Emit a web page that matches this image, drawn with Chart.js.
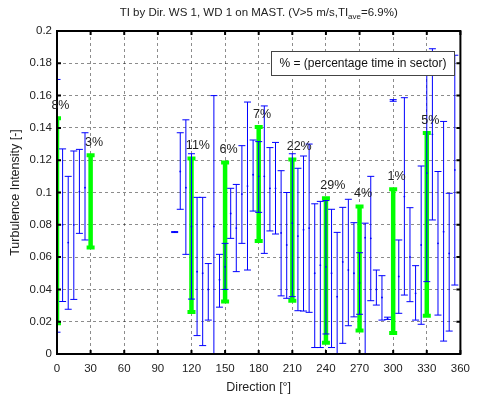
<!DOCTYPE html>
<html>
<head>
<meta charset="utf-8">
<script src="https://cdn.jsdelivr.net/npm/chart.js@4.4.1/dist/chart.umd.min.js"></script>
<style>
  html, body { margin: 0; padding: 0; background: #fff; }
</style>
</head>
<body>
<canvas id="chart" width="478" height="395"></canvas>
<script>
// 5 degree bins (blue error bars)
const binDir = [0, 5, 10, 15, 20, 25, 105, 110, 115, 120, 125, 130, 135, 140, 145, 150, 155, 160, 165, 170,
  175, 180, 185, 190, 195, 200, 205, 210, 215, 220, 225, 230, 235, 240, 245, 250, 255, 260, 265, 270,
  275, 280, 285, 290, 295, 300, 305, 310, 315, 320, 325, 330, 335, 340, 345, 350, 355];
const binHigh = [0.170, 0.127, 0.110, 0.1257, 0.1267, 0.137, 0.0758, 0.137, 0.145, 0.124, 0.097, 0.097, 0.056, 0.160, 0.0617, 0.0685, 0.1026, 0.105, 0.129, 0.156,
  0.1325, 0.1315, 0.1536, 0.1278, 0.131, 0.1135, 0.100, 0.124, 0.115, 0.1226, 0.130, 0.093, 0.0945, 0.095, 0.0896, 0.0753, 0.0908, 0.0958, 0.0813, 0.0627,
  0.081, 0.110, 0.052, 0.0485, 0.0228, 0.1575, 0.0706, 0.1587, 0.0906, 0.0547, 0.1164, 0.180, 0.189, 0.113, 0.144, 0.0995, 0.185];
const binMean = [0.090, 0.080, 0.069, 0.080, 0.1005, 0.103, 0.0755, 0.113, 0.103, 0.079, 0.051, 0.050, 0.040, 0.079, 0.046, 0.054, 0.087, 0.078, 0.099, 0.104,
  0.111, 0.110, 0.110, 0.1026, 0.1026, 0.075, 0.0675, 0.081, 0.073, 0.077, 0.078, 0.050, 0.055, 0.054, 0.050, 0.0355, 0.057, 0.052, 0.050, 0.044,
  0.072, 0.0716, 0.040, 0.035, 0.022, 0.157, 0.048, 0.0975, 0.060, 0.0376, 0.0675, 0.112, 0.136, 0.0685, 0.0757, 0.0623, 0.114];
const binLow = [0.0135, 0.0325, 0.0277, 0.0338, 0.0747, 0.0706, 0.0752, 0.0896, 0.0617, 0.034, 0.0114, 0.0052, 0.021, -0.01, 0.029, 0.040, 0.0716, 0.051, 0.0685, 0.052,
  0.0885, 0.0877, 0.0623, 0.0762, 0.0743, 0.036, 0.0345, 0.0355, 0.0268, 0.0266, 0.0258, 0.004, 0.004, 0.0124, 0.004, -0.01, 0.0066, 0.0175, 0.023, 0.0246,
  -0.01, 0.033, 0.0303, 0.021, 0.0214, 0.1565, 0.0252, 0.0365, 0.0324, 0.021, 0.0184, 0.0448, 0.083, 0.0241, 0.008, 0.0142, 0.0427];

// 30 degree sectors (green bars)
const sectorDir = [0, 30, 120, 150, 180, 210, 240, 270, 300, 330];
const sectorHigh = [0.146, 0.123, 0.121, 0.1186, 0.1405, 0.1205, 0.0965, 0.0913, 0.102, 0.1368];
const sectorLow = [0.019, 0.066, 0.026, 0.0325, 0.070, 0.033, 0.007, 0.0145, 0.013, 0.0237];
const sectorPct = ['8%', '3%', '11%', '6%', '7%', '22%', '29%', '4%', '1%', '5%'];

const xTicks = [0, 30, 60, 90, 120, 150, 180, 210, 240, 270, 300, 330, 360];
const yTicks = [0, 0.02, 0.04, 0.06, 0.08, 0.1, 0.12, 0.14, 0.16, 0.18, 0.2];

const FONT = '"Liberation Sans", Arial, Helvetica, sans-serif';

// vertical segments separated by null gaps
function segments(dirs, lows, highs) {
  const pts = [];
  dirs.forEach((d, i) => {
    pts.push({x: d, y: lows[i]}, {x: d, y: highs[i]}, {x: d, y: null});
  });
  return pts;
}

const decorations = {
  id: 'decorations',
  afterDatasetsDraw(chart) {
    const {ctx, chartArea: a, scales: {x, y}} = chart;
    ctx.save();
    ctx.strokeStyle = '#000';
    ctx.lineWidth = 2;
    ctx.beginPath();
    xTicks.forEach(v => {
      const px = x.getPixelForValue(v);
      ctx.moveTo(px, a.top); ctx.lineTo(px, a.top + 4);
      ctx.moveTo(px, a.bottom); ctx.lineTo(px, a.bottom - 4);
    });
    yTicks.forEach(v => {
      const py = y.getPixelForValue(v);
      ctx.moveTo(a.left, py); ctx.lineTo(a.left + 4, py);
      ctx.moveTo(a.right, py); ctx.lineTo(a.right - 4, py);
    });
    ctx.stroke();
    ctx.strokeRect(a.left, a.top, a.right - a.left, a.bottom - a.top);

    // sector percentages
    ctx.fillStyle = '#222';
    ctx.font = '12.5px ' + FONT;
    ctx.textAlign = 'left';
    ctx.textBaseline = 'middle';
    sectorDir.forEach((d, i) => {
      ctx.fillText(sectorPct[i], x.getPixelForValue(d - 5), y.getPixelForValue(sectorHigh[i] + 0.008));
    });

    // note box
    ctx.fillStyle = '#fff';
    ctx.fillRect(271, 51, 183, 24);
    ctx.strokeStyle = '#444';
    ctx.lineWidth = 1;
    ctx.strokeRect(271.5, 51.5, 183, 24);
    ctx.fillStyle = '#111';
    ctx.font = '12px ' + FONT;
    ctx.textAlign = 'center';
    ctx.fillText('% = (percentage time in sector)', 363, 64);

    // title with subscript
    const main = 'TI by Dir. WS 1, WD 1 on MAST. (V>5 m/s,TI';
    const sub = 'ave';
    const tail = '=6.9%)';
    const f1 = '11.5px ' + FONT, f2 = '8px ' + FONT;
    ctx.font = f1; const w1 = ctx.measureText(main).width, w3 = ctx.measureText(tail).width;
    ctx.font = f2; const w2 = ctx.measureText(sub).width;
    let tx = (a.left + a.right) / 2 - (w1 + w2 + w3) / 2;
    ctx.textAlign = 'left';
    ctx.textBaseline = 'alphabetic';
    ctx.fillStyle = '#222';
    ctx.font = f1; ctx.fillText(main, tx, 16); tx += w1;
    ctx.font = f2; ctx.fillText(sub, tx, 19); tx += w2;
    ctx.font = f1; ctx.fillText(tail, tx, 16);
    ctx.restore();
  }
};

new Chart(document.getElementById('chart'), {
  type: 'line',
  data: {
    datasets: [
      {
        label: 'mean',
        data: binDir.map((d, i) => ({x: d, y: binMean[i]})),
        showLine: false,
        pointRadius: 0.9,
        pointBackgroundColor: '#0000ff',
        pointBorderWidth: 0
      },
      {
        label: 'bins',
        data: segments(binDir, binLow, binHigh),
        borderColor: '#0000ff',
        borderWidth: 1,
        spanGaps: false,
        pointStyle: 'line',
        pointRadius: 3.5,
        pointBorderColor: '#0000ff',
        pointBorderWidth: 1
      },
      {
        label: 'sectors',
        data: segments(sectorDir, sectorLow, sectorHigh),
        borderColor: '#00ff00',
        borderWidth: 4.5,
        borderCapStyle: 'butt',
        spanGaps: false,
        pointStyle: 'line',
        pointRadius: 4,
        pointBorderColor: '#00ff00',
        pointBorderWidth: 4
      }
    ]
  },
  options: {
    responsive: false,
    animation: false,
    layout: {padding: {left: 0, top: 31, right: 12, bottom: 0}},
    plugins: {legend: {display: false}, tooltip: {enabled: false}},
    scales: {
      x: {
        type: 'linear',
        min: 0,
        max: 360,
        afterBuildTicks: s => { s.ticks = xTicks.map(v => ({value: v})); },
        afterFit: s => { s.height = 41; },
        grid: {color: 'rgba(0,0,0,0.45)', drawTicks: false},
        border: {display: false, dash: [3, 3]},
        ticks: {color: '#222', padding: 8, maxRotation: 0, font: {family: FONT, size: 11.5}},
        title: {display: true, text: 'Direction [°]', color: '#222', padding: {top: 2, bottom: 0}, font: {family: FONT, size: 12.5}}
      },
      y: {
        min: 0,
        max: 0.2,
        afterBuildTicks: s => { s.ticks = yTicks.map(v => ({value: v})); },
        afterFit: s => { s.width = 57; },
        grid: {color: 'rgba(0,0,0,0.45)', drawTicks: false},
        border: {display: false, dash: [3, 3]},
        ticks: {color: '#222', padding: 5, font: {family: FONT, size: 11.5}, callback: v => String(+v.toFixed(2))},
        title: {display: true, text: 'Turbulence Intensity [-]', color: '#222', padding: {top: 8, bottom: 0}, font: {family: FONT, size: 12.5}}
      }
    }
  },
  plugins: [decorations]
});
</script>
</body>
</html>
